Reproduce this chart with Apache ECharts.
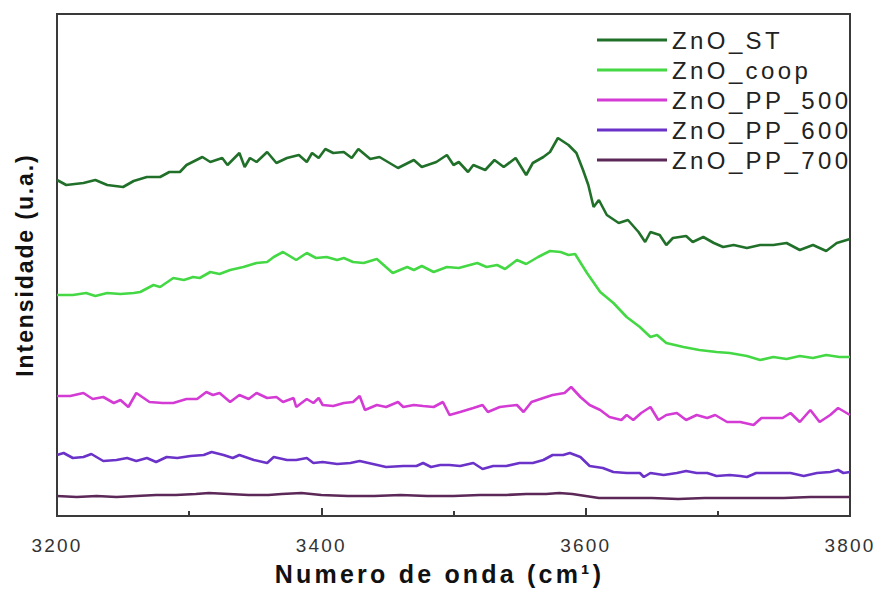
<!DOCTYPE html>
<html>
<head>
<meta charset="utf-8">
<script src="https://cdn.jsdelivr.net/npm/echarts@6/dist/echarts.min.js"></script>
<style>
  html, body { margin: 0; padding: 0; background: #ffffff; }
  #chart { width: 880px; height: 592px; }
  /* wide, loosely spaced lettering of the original plot software */
  #chart text { letter-spacing: 2.5px; }
  #chart text[style*="24px"] { letter-spacing: 3.4px; }
  #chart text[style*="25px"] { letter-spacing: 3.2px; }
  #chart text[style*="23px"] { letter-spacing: 1.9px; }
  #chart text[style*="19px"] { letter-spacing: 2.2px; }
</style>
</head>
<body>
<div id="chart"></div>
<script>
// FTIR spectra, O-H stretching region: [wavenumber (cm-1), intensity (a.u.)]
const seriesNames = ['ZnO_ST', 'ZnO_coop', 'ZnO_PP_500', 'ZnO_PP_600', 'ZnO_PP_700'];
const xTicks = [3200, 3400, 3600, 3800];

const znoST = [
  [3200,336],[3207,331],[3220,333],[3229,336],[3238,331],[3250,329],[3258,335],[3268,339],
  [3278,339],[3285,344],[3293,344],[3298,351],[3310,359],[3316,354],[3325,358],[3329,351],
  [3338,363],[3342,349],[3346,358],[3351,354],[3359,364],[3366,353],[3374,358],[3383,361],
  [3389,354],[3393,363],[3398,358],[3403,367],[3409,363],[3417,364],[3423,358],[3428,367],
  [3437,357],[3444,359],[3458,348],[3470,356],[3476,349],[3487,354],[3495,361],[3500,351],
  [3504,354],[3511,344],[3515,351],[3524,346],[3531,356],[3538,349],[3547,358],[3555,341],
  [3560,353],[3568,359],[3573,364],[3579,378],[3587,371],[3593,363],[3598,346],[3602,331],
  [3606,309],[3610,316],[3616,301],[3625,293],[3632,296],[3640,284],[3645,274],[3649,284],
  [3656,281],[3661,271],[3666,278],[3676,280],[3681,274],[3689,279],[3697,273],[3704,269],
  [3712,271],[3722,268],[3732,271],[3742,271],[3752,273],[3762,266],[3772,271],[3782,265],
  [3790,273],[3800,277]
];

const znoCoop = [
  [3200,221],[3212,221],[3222,223],[3229,220],[3238,223],[3248,222],[3258,223],[3263,224],
  [3273,231],[3278,229],[3288,238],[3296,236],[3303,239],[3308,238],[3316,244],[3323,242],
  [3331,246],[3341,249],[3351,253],[3359,254],[3364,259],[3371,264],[3381,256],[3389,263],
  [3396,258],[3404,259],[3412,256],[3417,258],[3424,254],[3432,253],[3442,257],[3454,243],
  [3465,249],[3470,246],[3476,250],[3485,244],[3495,249],[3504,248],[3518,253],[3525,249],
  [3533,251],[3539,247],[3548,256],[3555,252],[3564,259],[3573,265],[3581,264],[3587,261],
  [3592,262],[3601,243],[3611,224],[3621,213],[3631,199],[3641,189],[3649,179],[3654,181],
  [3661,173],[3674,169],[3686,166],[3699,164],[3709,163],[3722,160],[3732,156],[3742,159],
  [3752,157],[3762,160],[3772,158],[3782,161],[3792,159],[3800,159]
];

const znoPP500 = [
  [3200,120],[3210,120],[3220,123],[3227,117],[3235,119],[3243,113],[3248,116],[3254,109],
  [3260,123],[3270,114],[3280,113],[3288,113],[3298,117],[3306,117],[3313,124],[3318,121],
  [3323,123],[3331,114],[3338,121],[3345,117],[3351,123],[3359,118],[3366,119],[3371,114],
  [3379,118],[3381,109],[3389,117],[3394,113],[3398,118],[3401,111],[3409,110],[3417,113],
  [3424,114],[3429,120],[3433,106],[3442,111],[3449,109],[3458,114],[3462,109],[3470,111],
  [3477,110],[3485,109],[3492,114],[3497,101],[3505,104],[3515,108],[3522,111],[3526,104],
  [3535,109],[3548,111],[3553,104],[3559,114],[3568,118],[3575,121],[3584,123],[3589,129],
  [3596,119],[3603,111],[3611,106],[3618,99],[3627,96],[3631,101],[3636,96],[3642,103],
  [3649,109],[3655,96],[3661,101],[3669,103],[3676,96],[3684,101],[3692,98],[3698,101],
  [3707,94],[3717,94],[3727,91],[3733,98],[3742,98],[3749,98],[3755,103],[3762,94],
  [3770,106],[3777,94],[3785,101],[3791,108],[3800,101]
];

const znoPP600 = [
  [3200,61],[3205,63],[3212,58],[3220,59],[3226,62],[3235,55],[3245,56],[3253,58],
  [3260,55],[3268,58],[3275,54],[3283,59],[3291,58],[3301,60],[3311,61],[3317,64],
  [3326,61],[3333,58],[3338,61],[3349,56],[3359,53],[3364,59],[3374,56],[3381,56],
  [3389,58],[3394,53],[3401,54],[3412,52],[3422,53],[3429,55],[3439,52],[3449,49],
  [3462,50],[3472,50],[3477,53],[3483,49],[3490,51],[3497,51],[3505,50],[3515,53],
  [3522,47],[3530,50],[3540,50],[3550,53],[3560,53],[3568,56],[3575,61],[3583,61],
  [3588,63],[3596,59],[3603,50],[3613,48],[3621,44],[3631,43],[3641,43],[3644,39],
  [3649,43],[3659,41],[3669,43],[3676,45],[3684,43],[3692,43],[3699,40],[3709,41],
  [3717,40],[3722,39],[3729,43],[3742,43],[3755,43],[3765,40],[3775,43],[3785,44],
  [3791,46],[3795,43],[3800,44]
];

const znoPP700 = [
  [3200,20],[3215,19],[3230,20],[3245,19],[3260,20],[3275,21],[3290,21],[3305,22],
  [3315,23],[3330,22],[3345,21],[3360,21],[3370,22],[3385,23],[3400,21],[3420,20],
  [3440,20],[3460,21],[3480,20],[3500,20],[3520,21],[3540,21],[3555,22],[3570,22],
  [3580,23],[3590,22],[3600,20],[3610,18],[3630,18],[3650,18],[3670,17],[3690,18],
  [3710,18],[3730,18],[3750,18],[3770,19],[3785,19],[3800,19]
];

const seriesData = [znoST, znoCoop, znoPP500, znoPP600, znoPP700];
const seriesColors = ['#21702a', '#44d844', '#d43ad4', '#6a32c8', '#5c2858'];

const FONT = '"Liberation Sans", Arial, sans-serif';

const chart = echarts.init(document.getElementById('chart'), null, { renderer: 'svg' });

chart.setOption({
  animation: false,
  backgroundColor: '#ffffff',
  grid: {
    left: 57, right: 30, top: 14, bottom: 76,
    show: true, borderColor: '#3a3a3a', borderWidth: 2, backgroundColor: 'transparent'
  },
  legend: {
    data: seriesNames,
    orient: 'vertical',
    left: 592,
    top: 20,
    icon: 'rect',
    itemWidth: 70,
    itemHeight: 3,
    itemGap: 0,
    textStyle: { fontFamily: FONT, fontSize: 24, color: '#222', lineHeight: 30 }
  },
  xAxis: {
    type: 'value',
    min: 3200, max: 3800, interval: 200,
    axisLine: { show: true, lineStyle: { color: '#3a3a3a', width: 2 } },
    axisTick: { show: true, inside: true, length: 8, lineStyle: { color: '#3a3a3a', width: 2 } },
    minorTick: { show: true, splitNumber: 2, length: 5, lineStyle: { color: '#3a3a3a', width: 2 } },
    splitLine: { show: false },
    axisLabel: {
      fontFamily: FONT, fontSize: 19, color: '#333', margin: 20,
      formatter: v => (xTicks.includes(v) ? String(v) : '')
    },
    name: 'Numero de onda (cm\u00b9)',
    nameLocation: 'middle',
    nameGap: 45,
    nameTextStyle: {
      fontFamily: FONT, fontSize: 25, fontWeight: 'bold', color: '#111',
      padding: [0, 28, 0, 0]
    }
  },
  yAxis: {
    type: 'value',
    min: 0, max: 502,
    axisLine: { show: true, lineStyle: { color: '#3a3a3a', width: 2 } },
    axisTick: { show: false },
    axisLabel: { show: false },
    splitLine: { show: false },
    name: 'Intensidade (u.a.)',
    nameLocation: 'middle',
    nameRotate: 90,
    nameGap: 21,
    nameTextStyle: { fontFamily: FONT, fontSize: 23, fontWeight: 'bold', color: '#111' }
  },
  series: seriesNames.map((name, i) => ({
    name: name,
    type: 'line',
    data: seriesData[i],
    symbol: 'none',
    lineStyle: { width: 2.6, color: seriesColors[i] },
    itemStyle: { color: seriesColors[i] },
    z: 10 - i
  }))
});
</script>
</body>
</html>
